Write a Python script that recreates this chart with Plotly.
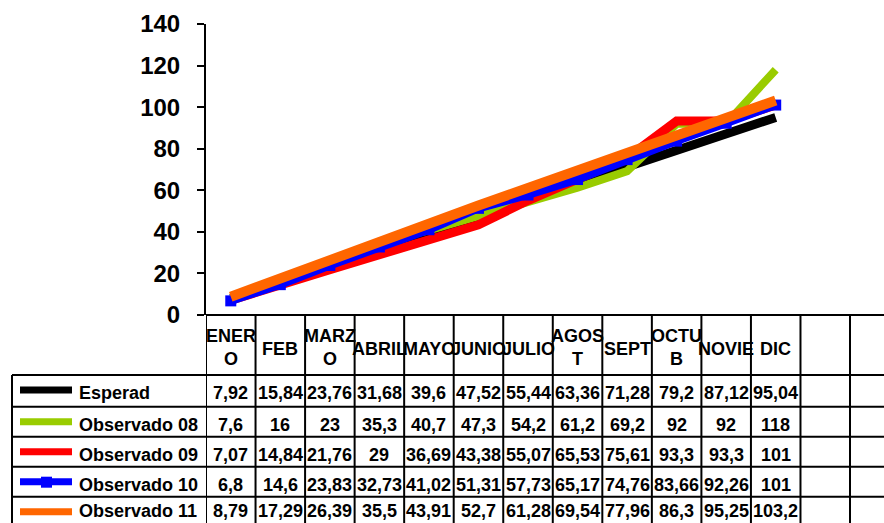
import plotly.graph_objects as go

months = ["ENER<br>O", "FEB", "MARZ<br>O", "ABRIL", "MAYO", "JUNIO", "JULIO",
          "AGOS<br>T", "SEPT", "OCTU<br>B", "NOVIE", "DIC"]
series_names = ["Esperad", "Observado 08", "Observado 09", "Observado 10", "Observado 11"]
esperad = [7.92, 15.84, 23.76, 31.68, 39.6, 47.52, 55.44, 63.36, 71.28, 79.2, 87.12, 95.04]
obs08 = [7.6, 16, 23, 35.3, 40.7, 47.3, 54.2, 61.2, 69.2, 92, 92, 118]
obs09 = [7.07, 14.84, 21.76, 29, 36.69, 43.38, 55.07, 65.53, 75.61, 93.3, 93.3, 101]
obs10 = [6.8, 14.6, 23.83, 32.73, 41.02, 51.31, 57.73, 65.17, 74.76, 83.66, 92.26, 101]
obs11 = [8.79, 17.29, 26.39, 35.5, 43.91, 52.7, 61.28, 69.54, 77.96, 86.3, 95.25, 103.2]
all_series = [esperad, obs08, obs09, obs10, obs11]
colors = ["#000000", "#99CC00", "#FF0000", "#0000FF", "#FF6600"]
widths = [9, 8, 9, 8, 10]
n_cols = 14  # 12 months + 2 empty columns

W, H = 884, 523
def py(y):
    return 1 - y / H
def px(x):
    return x / W

x0_pix, col_w = 206, 49.54
x_end = -0.5 + (W - x0_pix) / col_w
FONT = "Liberation Sans, Arial, sans-serif"
TS = 18

fig = go.Figure()
xs = list(range(len(months)))
for i, (name, vals) in enumerate(zip(series_names, all_series)):
    fig.add_trace(go.Scatter(
        x=xs, y=vals, name=name, mode="lines+markers" if i == 3 else "lines",
        line=dict(color=colors[i], width=widths[i]),
        marker=dict(symbol="square", size=11, color=colors[i]) if i == 3 else None,
    ))

shapes = []
ann = []
axis_y = 315
row_lines = [375, 406.7, 436.7, 466.7, 496.7]
row_h = 30.3
shapes.append(dict(type="line", xref="paper", yref="paper", x0=px(x0_pix), x1=1,
                   y0=py(axis_y), y1=py(axis_y), line=dict(color="black", width=2)))
for y in row_lines:
    shapes.append(dict(type="line", xref="paper", yref="paper", x0=px(12), x1=1,
                       y0=py(y), y1=py(y), line=dict(color="black", width=2)))
shapes.append(dict(type="line", xref="paper", yref="paper", x0=px(12), x1=px(12),
                   y0=py(row_lines[0]), y1=0, line=dict(color="black", width=2)))
for k in range(n_cols + 1):
    shapes.append(dict(type="line", xref="x", yref="paper", x0=k - 0.5, x1=k - 0.5,
                       y0=py(axis_y), y1=0, line=dict(color="black", width=2)))

for i, m in enumerate(months):
    ann.append(dict(x=i, xref="x", y=py(347 if "<br>" in m else 349), yref="paper",
                    text=f"<b>{m}</b>", showarrow=False, xanchor="center", yanchor="middle",
                    font=dict(family=FONT, size=TS, color="black")))

for r, (name, vals) in enumerate(zip(series_names, all_series)):
    top = row_lines[r]
    yc = min(top + row_h / 2 + 3, H - 12)
    sy = top + 15
    shapes.append(dict(type="line", xref="paper", yref="paper", x0=px(20), x1=px(72),
                       y0=py(sy), y1=py(sy), line=dict(color=colors[r], width=7)))
    if r == 3:
        shapes.append(dict(type="rect", xref="paper", yref="paper", x0=px(41), x1=px(52),
                           y0=py(sy - 5), y1=py(sy + 6), fillcolor=colors[r],
                           line=dict(width=0)))
    ann.append(dict(x=px(77), xref="paper", y=py(yc), yref="paper",
                    text=f"<b>{name}</b>", showarrow=False, xanchor="left", yanchor="middle",
                    font=dict(family=FONT, size=TS, color="black")))
    for i, v in enumerate(vals):
        txt = f"{v:g}".replace(".", ",")
        ann.append(dict(x=i, xref="x", y=py(yc), yref="paper",
                        text=f"<b>{txt}</b>", showarrow=False, xanchor="center", yanchor="middle",
                        font=dict(family=FONT, size=TS, color="black")))

fig.update_layout(
    width=W, height=H, margin=dict(l=0, r=0, t=0, b=0, pad=0, autoexpand=False),
    paper_bgcolor="white", plot_bgcolor="white", showlegend=False,
    shapes=shapes, annotations=ann,
    xaxis=dict(domain=[px(x0_pix), 1], range=[-0.5, x_end], showgrid=False, zeroline=False,
               showticklabels=False, ticks="", showline=False, automargin=False),
    yaxis=dict(domain=[py(axis_y), py(24)], range=[0, 140], dtick=20, showgrid=False,
               zeroline=False, showline=True, linecolor="black", linewidth=2,
               ticks="outside", ticklen=7, tickwidth=2, tickcolor="black",
               ticklabelstandoff=12, automargin=False,
               tickfont=dict(family=FONT, size=24, color="black", weight="bold")),
)

fig.write_html("out.html")
